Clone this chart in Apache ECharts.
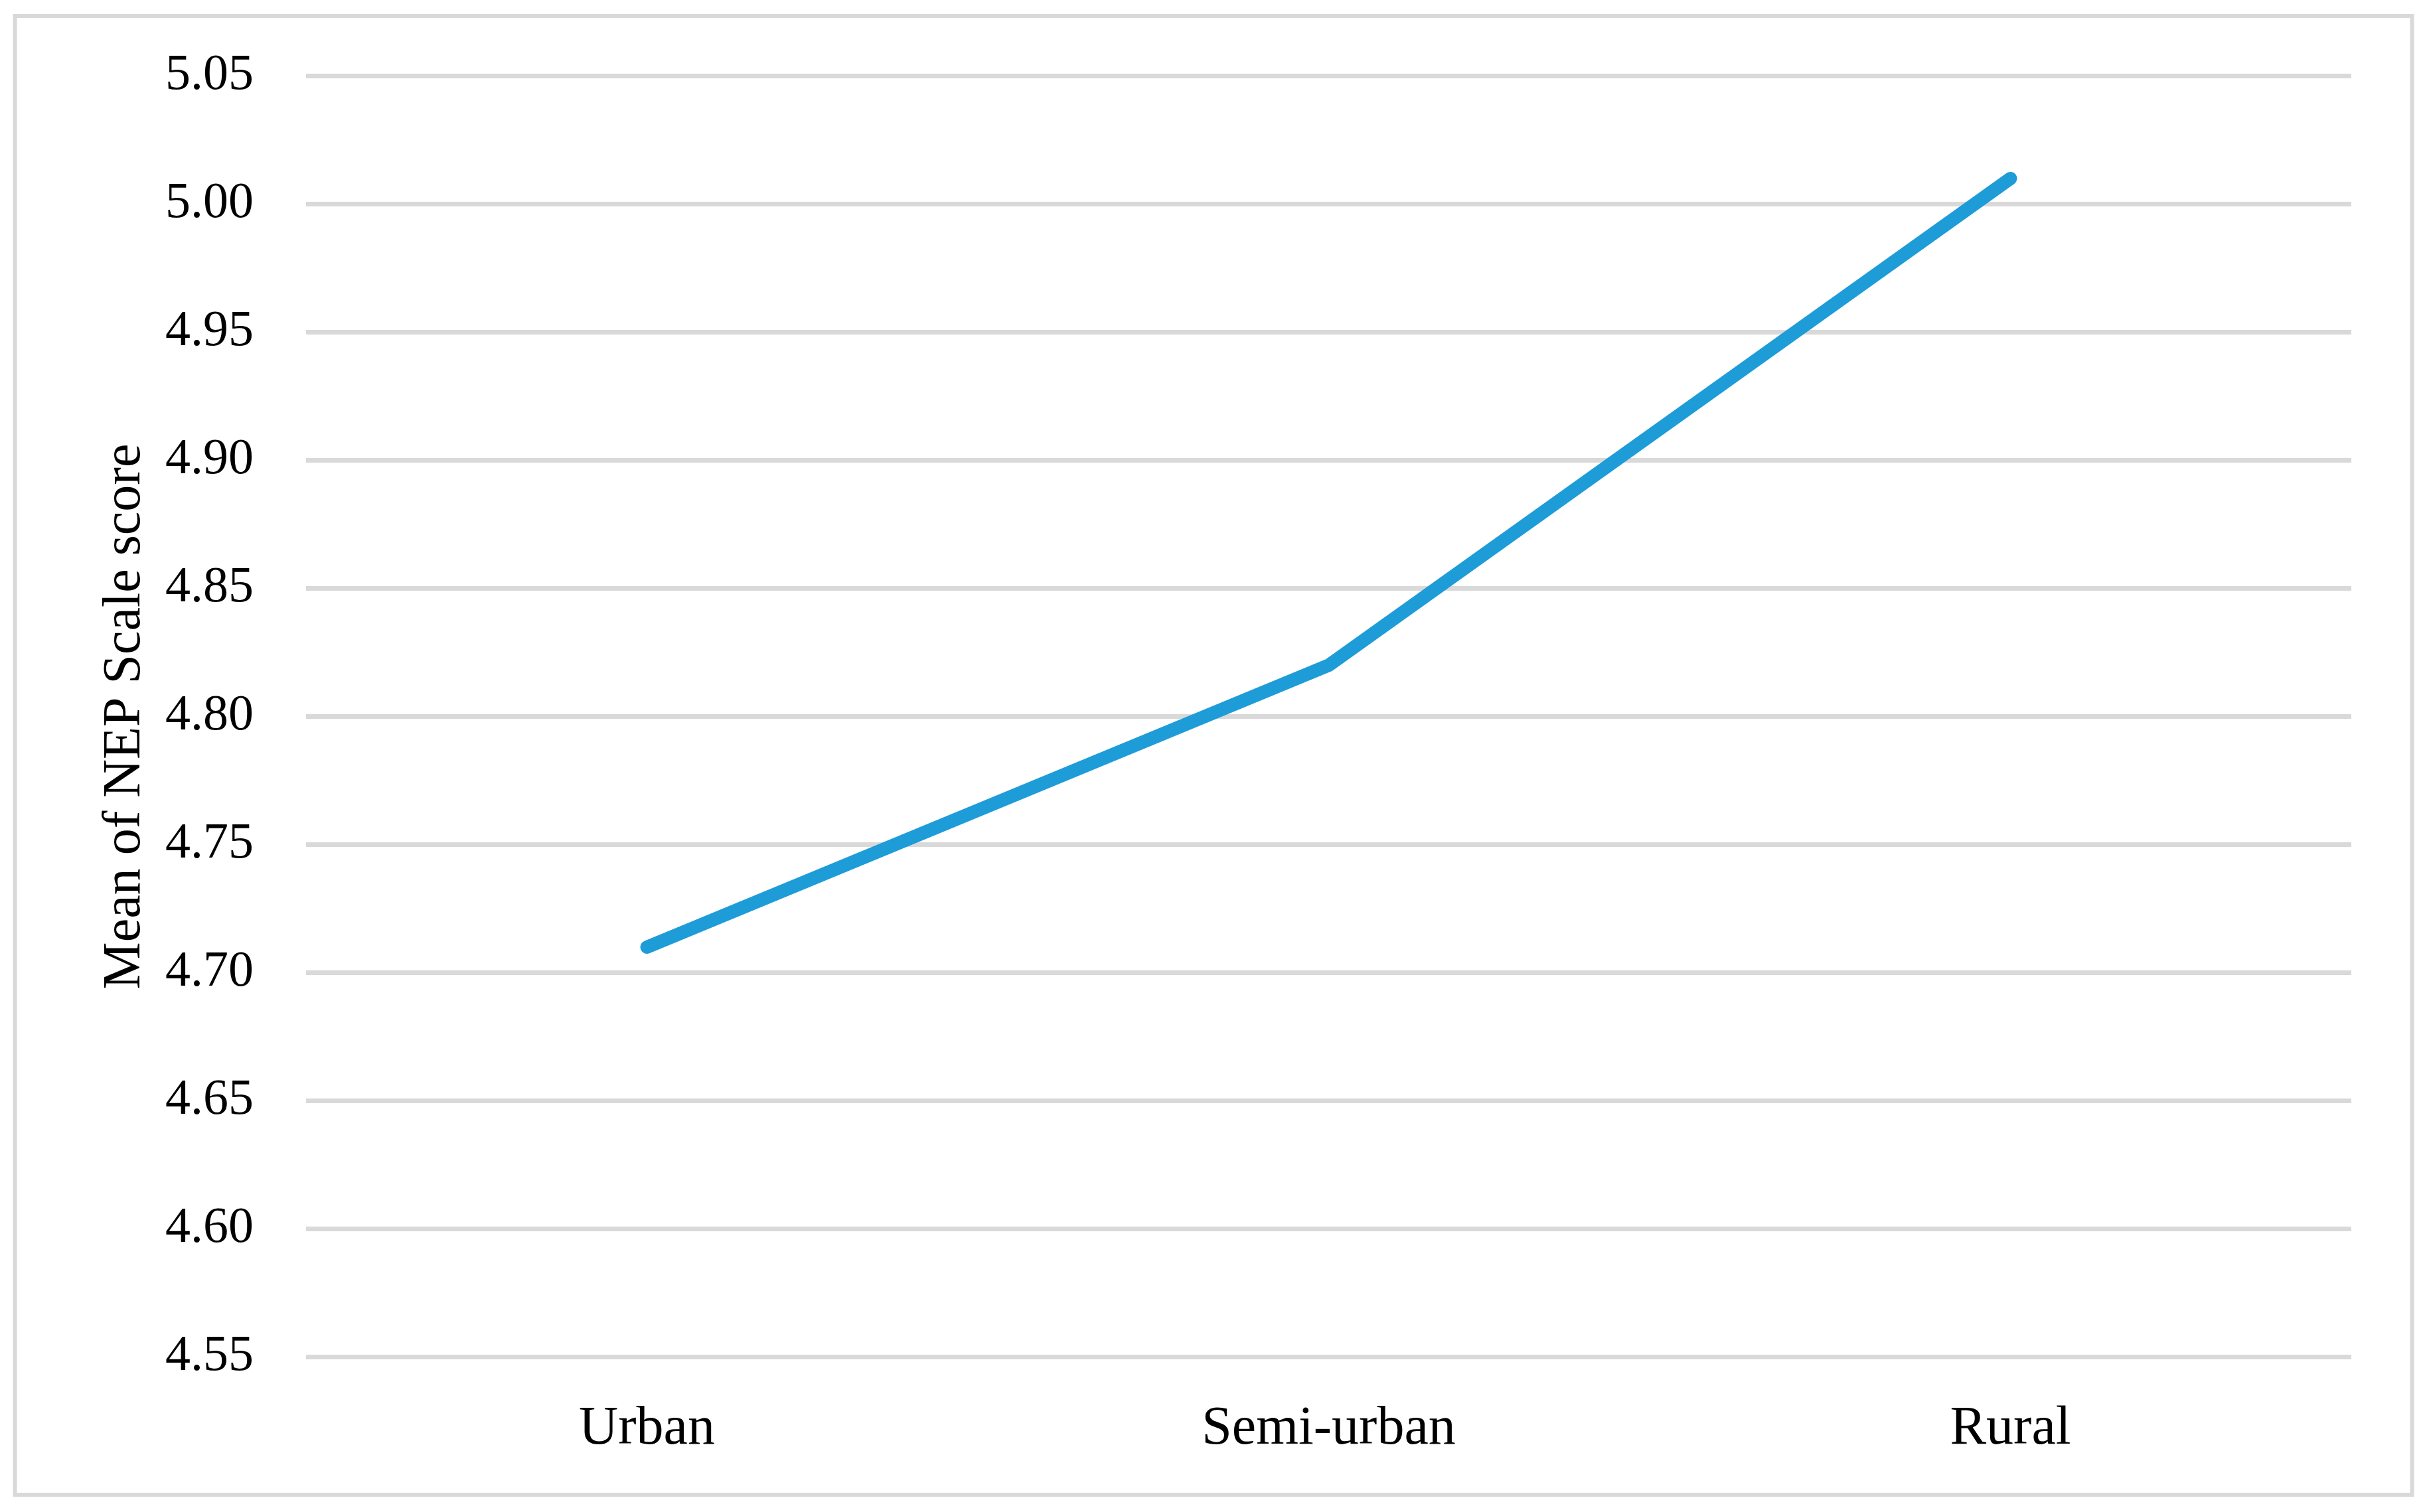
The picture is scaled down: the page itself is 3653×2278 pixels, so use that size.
<!DOCTYPE html>
<html>
<head>
<meta charset="utf-8">
<script src="https://cdn.jsdelivr.net/npm/echarts@6/dist/echarts.min.js"></script>
<style>
html,body{margin:0;padding:0;background:#fff;}
#chart{width:3653px;height:2278px;}
</style>
</head>
<body>
<div id="chart"></div>
<script>
const categories = ['Urban', 'Semi-urban', 'Rural'];
const meanNEP = [4.71, 4.82, 5.01];
const yMin = 4.55, yMax = 5.05, yStep = 0.05;
const yAxisTitle = 'Mean of NEP Scale score';

const chart = echarts.init(document.getElementById('chart'), null, {renderer: 'canvas'});
const font = '"Liberation Serif", "DejaVu Serif", serif';
chart.setOption({
  backgroundColor: '#ffffff',
  animation: false,
  graphic: [{
    type: 'rect',
    shape: {x: 22.5, y: 24, width: 3611, height: 2228},
    style: {fill: null, stroke: '#d9d9d9', lineWidth: 6},
    silent: true
  }],
  grid: {left: 461, right: 111, top: 114.5, bottom: 233.5, outerBoundsMode: 'none', containLabel: false},
  xAxis: {
    type: 'category',
    data: categories,
    boundaryGap: true,
    axisLine: {show: false},
    axisTick: {show: false},
    axisLabel: {fontFamily: font, fontSize: 82, color: '#000', margin: 68}
  },
  yAxis: {
    type: 'value',
    min: yMin, max: yMax, interval: yStep,
    name: yAxisTitle,
    nameLocation: 'middle',
    nameGap: 232,
    nameTextStyle: {fontFamily: font, fontSize: 80, color: '#000'},
    axisLine: {show: false},
    axisTick: {show: false},
    splitLine: {lineStyle: {color: '#d9d9d9', width: 7}},
    axisLabel: {fontFamily: font, fontSize: 76, color: '#000', margin: 79,
      formatter: v => v.toFixed(2)}
  },
  series: [{
    type: 'line',
    data: meanNEP,
    symbol: 'none',
    lineStyle: {color: '#1e9cd8', width: 20, cap: 'round', join: 'round'},
    itemStyle: {color: '#1e9cd8'}
  }]
});
</script>
</body>
</html>
